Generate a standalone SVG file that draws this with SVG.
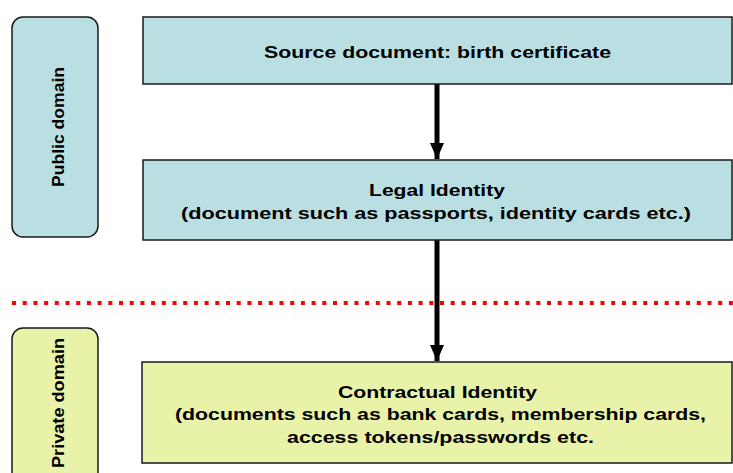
<svg xmlns="http://www.w3.org/2000/svg" width="733" height="473" viewBox="0 0 733 473">
  <style>
    .pub { fill: #b9dfe3; stroke: #1a1a1a; stroke-width: 1.5; }
    .priv { fill: #e8f2a9; stroke: #1a1a1a; stroke-width: 1.5; }
    text { font-family: "Liberation Sans", Arial, sans-serif; font-weight: bold; font-size: 17px; fill: #000; }
    .side { font-size: 16px; }
    .c { text-anchor: middle; }
    .flow { stroke: #000; stroke-width: 5; fill: none; }
  </style>
  <defs>
    <marker id="head" markerUnits="userSpaceOnUse" markerWidth="18" markerHeight="14" refX="16" refY="7" orient="auto">
      <path d="M0,0 L16,7 L0,14 Z" fill="#000"/>
    </marker>
  </defs>

  <!-- domain labels -->
  <g id="public-domain">
    <rect class="pub" x="12" y="17" width="86" height="220" rx="11"/>
    <text class="c side" transform="translate(64,127) rotate(-90)" textLength="120" lengthAdjust="spacingAndGlyphs">Public domain</text>
  </g>
  <g id="private-domain">
    <rect class="priv" x="12" y="328" width="86" height="160" rx="11"/>
    <text class="c side" transform="translate(64,403) rotate(-90)" textLength="130" lengthAdjust="spacingAndGlyphs">Private  domain</text>
  </g>

  <!-- public / private boundary -->
  <line x1="12" y1="303" x2="733" y2="303" stroke="#ff0000" stroke-width="4" stroke-dasharray="4 6.7"/>

  <!-- connectors -->
  <g id="connectors">
    <line class="flow" x1="437" y1="84" x2="437" y2="159" marker-end="url(#head)"/>
    <line class="flow" x1="437" y1="240" x2="437" y2="361" marker-end="url(#head)"/>
  </g>

  <g id="source-document">
    <rect class="pub" x="143" y="17" width="589" height="67"/>
    <text class="c" x="437.5" y="58" textLength="347" lengthAdjust="spacingAndGlyphs">Source document: birth certificate</text>
  </g>
  <g id="legal-identity">
    <rect class="pub" x="143" y="160" width="589" height="80"/>
    <text class="c" x="437" y="196" textLength="136" lengthAdjust="spacingAndGlyphs">Legal Identity</text>
    <text class="c" x="436" y="219" textLength="510" lengthAdjust="spacingAndGlyphs">(document such as passports, identity cards etc.)</text>
  </g>
  <g id="contractual-identity">
    <rect class="priv" x="142" y="362" width="590" height="101"/>
    <text class="c" x="437.5" y="398" textLength="199" lengthAdjust="spacingAndGlyphs">Contractual Identity</text>
    <text class="c" x="440.5" y="420" textLength="531" lengthAdjust="spacingAndGlyphs">(documents such as bank cards, membership cards,</text>
    <text class="c" x="440.5" y="443" textLength="307" lengthAdjust="spacingAndGlyphs">access tokens/passwords etc.</text>
  </g>
</svg>
